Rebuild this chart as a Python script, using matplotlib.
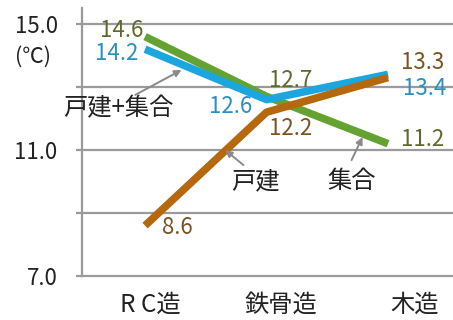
import matplotlib
matplotlib.use('Agg')
import matplotlib.pyplot as plt
import numpy as np

plt.rcParams['font.family'] = ['Noto Sans CJK JP', 'DejaVu Sans']

# data
categories = ['R C造', '鉄骨造', '木造']
kodate = [8.6, 12.2, 13.3]        # 戸建
shugo = [14.6, 12.7, 11.2]        # 集合
kodate_shugo = [14.2, 12.6, 13.4]  # 戸建+集合
y_ticks = [7, 9, 11, 13, 15]
y_labels = ['7.0', '', '11.0', '', '15.0']

GRID = '#9a9a9a'
x = np.arange(len(categories))

fig = plt.figure(figsize=(4.53, 3.2), dpi=100)
ax = fig.add_axes([82 / 453, 1 - 276 / 320, (453 - 82) / 453, 268 / 320])
ax.set_xlim(-0.519, 2.535)
ax.set_ylim(7, 15.508)

for yv in y_ticks:
    ax.axhline(yv, color=GRID, lw=1.6, zorder=1, clip_on=False)

for s in ['top', 'right', 'bottom']:
    ax.spines[s].set_visible(False)
ax.spines['left'].set_color(GRID)
ax.spines['left'].set_linewidth(1.6)

ax.set_yticks(y_ticks)
ax.set_yticklabels(y_labels, fontsize=16, color='#222222')
ax.tick_params(axis='y', length=4.5, width=1.6, color=GRID, pad=13)

# category labels sit a little right of the points
shift = [0.04, 0.12, 0.22]
ax.set_xticks(x + np.array(shift))
ax.set_xticklabels(categories, fontsize=17.5, color='#222222')
ax.tick_params(axis='x', length=0, pad=11)

ax.text(-0.92, 13.95, '(℃)', fontsize=15.5, color='#222222', ha='center', va='center',
        transform=ax.transData, clip_on=False)

lw = 5.5
ax.plot(x, shugo, color='#64a332', lw=lw, solid_capstyle='butt', solid_joinstyle='round', zorder=3)
ax.plot(x, kodate_shugo, color='#1ba6e0', lw=lw, solid_capstyle='butt', solid_joinstyle='round', zorder=4)
ax.plot(x, kodate, color='#b5680d', lw=lw, solid_capstyle='butt', solid_joinstyle='round', zorder=5)

# value labels, offsets in pixels from each point
series = [
    (shugo, '#5d6a2c', [(-23, 6), (24, 16), (35, 4)]),
    (kodate_shugo, '#2a90c0', [(-28, -4), (-36, -7), (37, -14)]),
    (kodate, '#7b5323', [(32, -2), (24, -16), (35, 15)]),
]
for vals, col, offs in series:
    for xi, v, (dx, dy) in zip(x, vals, offs):
        ax.annotate(f'{v:.1f}', (xi, v), xytext=(dx, dy), textcoords='offset pixels',
                    ha='center', va='center', fontsize=16, color=col, zorder=6,
                    annotation_clip=False)

# series name callouts
arrow = dict(arrowstyle='-|>', color='#8a8a8a', lw=1.4, mutation_scale=10,
             shrinkA=0, shrinkB=0)
callouts = [
    ('戸建+集合', (-0.22, 12.33), (0.30, 13.54), (-0.08, 12.75)),
    ('戸建', (0.905, 10.02), (0.66, 11.0), (0.81, 10.52)),
    ('集合', (1.70, 10.02), (1.79, 11.41), (1.70, 10.68)),
]
for name, txt, head, tail in callouts:
    ax.text(txt[0], txt[1], name, fontsize=17.5, color='#222222', ha='center', va='center', zorder=7)
    ax.annotate('', xy=head, xytext=tail, arrowprops=arrow, zorder=7)

fig.savefig('out.png', dpi=100)
